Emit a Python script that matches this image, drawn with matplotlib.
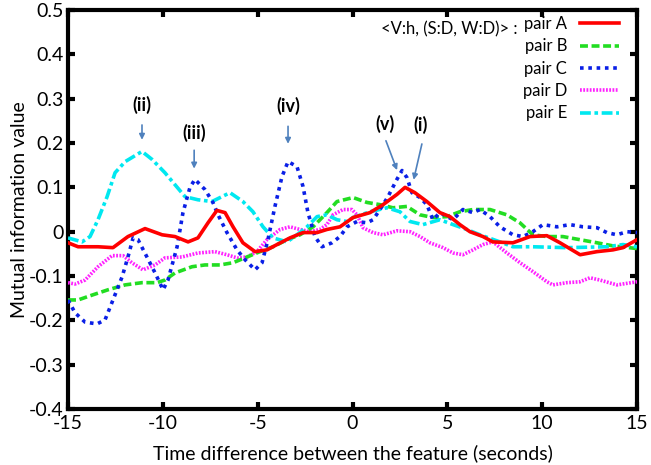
import matplotlib
matplotlib.use("Agg")
import matplotlib.pyplot as plt
import numpy as np

plt.rcParams['font.family'] = ['Lato', 'DejaVu Sans']

# ---- data ----
a_x = [-15, -14.47, -13.42, -12.63, -11.84, -10.94, -10.04, -9.36, -8.67, -8.15, -7.62, -7.15, -6.72, -6.3,
       -5.78, -5.14, -4.51, -3.98, -3.3, -2.61, -1.87, -1.35, -0.66, 0.03, 0.92, 1.61, 2.34, 2.77, 3.29, 3.92,
       4.61, 5.14, 5.66, 6.19, 6.88, 7.4, 8.46, 9.36, 10.25, 10.94, 12.0, 12.89, 13.73, 14.26, 15]
a_y = [-0.025, -0.034, -0.034, -0.036, -0.011, 0.007, -0.007, -0.011, -0.023, -0.014, 0.020, 0.048, 0.043, 0.011,
       -0.025, -0.045, -0.041, -0.029, -0.014, -0.002, -0.002, 0.005, 0.011, 0.032, 0.043, 0.061, 0.084, 0.100, 0.088, 0.068,
       0.043, 0.034, 0.016, 0.000, -0.011, -0.023, -0.025, -0.011, -0.009, -0.025, -0.052, -0.045, -0.041, -0.036, -0.018]

b_x = [-15, -14.47, -13.73, -12.89, -11.99, -11.1, -10.31, -9.89, -9.36, -8.46, -7.78, -6.99, -6.3, -5.56,
       -4.88, -4.19, -3.45, -2.77, -2.08, -1.35, -0.82, 0.03, 0.76, 1.45, 2.13, 2.87, 3.56, 4.24, 4.98, 5.66,
       6.35, 7.25, 8.14, 8.83, 9.51, 10.25, 11.09, 11.99, 12.89, 13.73, 15]
b_y = [-0.154, -0.154, -0.143, -0.131, -0.120, -0.115, -0.115, -0.109, -0.093, -0.079, -0.075, -0.075, -0.070, -0.057,
       -0.045, -0.034, -0.018, -0.007, 0.011, 0.043, 0.068, 0.077, 0.066, 0.061, 0.054, 0.057, 0.038, 0.032, 0.034, 0.045,
       0.050, 0.050, 0.038, 0.020, -0.007, -0.011, -0.011, -0.018, -0.025, -0.032, -0.038]

c_x = [-15, -14.63, -14.1, -13.47, -13.05, -12.63, -12.15, -11.84, -11.57, -11.31, -10.84, -10.41, -9.99, -9.73,
       -9.25, -8.94, -8.57, -8.31, -7.78, -7.36, -7.09, -6.62, -6.09, -5.67, -5.14, -4.77, -4.46, -4.09, -3.72,
       -3.4, -2.93, -2.61, -2.35, -1.98, -1.61, -1.08, -0.66, -0.29, 0.24, 0.76, 1.08, 1.45, 1.87, 2.34, 2.61,
       2.87, 3.13, 3.56, 3.92, 4.24, 4.61, 5.3, 5.82, 6.35, 6.72, 7.25, 7.77, 8.46, 8.99, 9.51, 10.04, 10.78,
       11.46, 12.15, 12.89, 13.41, 13.94, 14.47, 15]
c_y = [-0.154, -0.183, -0.204, -0.208, -0.199, -0.154, -0.102, -0.057, -0.014, -0.018, -0.057, -0.093, -0.131, -0.109,
       -0.034, 0.043, 0.100, 0.118, 0.095, 0.066, 0.038, -0.002, -0.041, -0.063, -0.086, -0.070, -0.018, 0.057, 0.124,
       0.158, 0.147, 0.102, 0.043, -0.011, -0.034, -0.025, -0.011, 0.011, 0.023, 0.020, 0.027, 0.050, 0.079, 0.118, 0.138,
       0.122, 0.088, 0.077, 0.061, 0.027, 0.043, 0.027, 0.050, 0.043, 0.050, 0.034, 0.011, -0.007, -0.011, 0.000, 0.016, 0.011,
       0.016, 0.011, 0.009, -0.002, -0.007, 0.000, -0.002]

d_x = [-15, -14.63, -14.1, -13.42, -12.68, -12.1, -11.63, -11.05, -10.41, -9.89, -8.99, -8.15, -7.25, -6.62,
       -6.09, -5.56, -5.04, -4.51, -3.82, -3.3, -2.77, -2.24, -1.72, -1.35, -1.03, -0.5, -0.03, 0.24, 0.55, 1.08,
       1.61, 2.34, 3.03, 3.56, 4.08, 4.77, 5.3, 5.82, 6.35, 6.88, 7.4, 8.14, 8.83, 9.51, 10.25, 10.57, 11.3,
       11.99, 12.52, 13.04, 13.94, 15]
d_y = [-0.115, -0.118, -0.109, -0.079, -0.054, -0.054, -0.070, -0.086, -0.075, -0.059, -0.057, -0.048, -0.045, -0.052,
       -0.059, -0.057, -0.045, -0.018, 0.005, 0.011, 0.005, 0.000, 0.005, 0.016, 0.038, 0.050, 0.050, 0.038, 0.009, -0.002,
       -0.007, 0.002, 0.000, -0.011, -0.025, -0.036, -0.048, -0.052, -0.041, -0.029, -0.023, -0.048, -0.070, -0.090, -0.113, -0.120, -0.115,
       -0.113, -0.104, -0.109, -0.120, -0.113]

e_x = [-15, -14.26, -13.84, -13.42, -12.94, -12.52, -11.99, -11.1, -10.57, -9.89, -9.36, -8.83, -8.15, -7.41,
       -6.46, -5.78, -5.25, -4.72, -4.19, -3.45, -2.93, -2.4, -1.87, -1.35, -0.82, -0.29, 0.03, 0.92, 1.82, 2.5,
       3.03, 3.71, 4.61, 5.3, 6.03, 6.72, 7.77, 8.46, 9.51, 11.3, 13.41, 14.26, 15]
e_y = [-0.014, -0.023, -0.011, 0.027, 0.079, 0.133, 0.158, 0.181, 0.163, 0.133, 0.106, 0.079, 0.072, 0.068,
       0.088, 0.068, 0.045, 0.011, -0.014, -0.023, -0.007, 0.011, 0.034, 0.038, 0.027, 0.023, 0.032, 0.045, 0.054, 0.045,
       0.023, 0.016, 0.027, 0.016, 0.005, -0.007, -0.023, -0.034, -0.034, -0.036, -0.034, -0.029, -0.034]

series_labels = ['pair A', 'pair B', 'pair C', 'pair D', 'pair E']
legend_title = '<V:h, (S:D, W:D)> :'
x_ticks = [-15, -10, -5, 0, 5, 10, 15]
y_ticks = [-0.4, -0.3, -0.2, -0.1, 0, 0.1, 0.2, 0.3, 0.4, 0.5]
y_tick_labels = ['-0.4', '-0.3', '-0.2', '-0.1', '0', '0.1', '0.2', '0.3', '0.4', '0.5']

# annotations: label, text position, arrow start, arrow end
ann_labels = ['(ii)', '(iii)', '(iv)', '(v)', '(i)']
ann_text_xy = [(-11.1, 0.285), (-8.35, 0.222), (-3.4, 0.283), (1.71, 0.242), (3.61, 0.240)]
ann_start_xy = [(-11.1, 0.247), (-8.35, 0.190), (-3.4, 0.244), (1.71, 0.211), (3.69, 0.204)]
ann_end_xy = [(-11.1, 0.201), (-8.35, 0.136), (-3.4, 0.192), (2.4, 0.133), (3.19, 0.111)]

# ---- figure ----
fig = plt.figure(figsize=(6.51, 4.65), dpi=100)
ax = fig.add_axes([0.1045, 0.1204, 0.874, 0.858])

lw = 2.6
styles = [
    dict(color='#ff0000', linestyle='-', linewidth=lw),
    dict(color='#22dd22', linestyle=(0, (2.2, 1.0)), linewidth=lw),
    dict(color='#0a1fe6', linestyle=(0, (1.0, 1.3)), linewidth=lw),
    dict(color='#ff22ff', linestyle=(0, (0.5, 0.4)), linewidth=lw),
    dict(color='#00e8f0', linestyle=(0, (3.0, 1.0, 1.0, 1.0)), linewidth=lw),
]
xs = [a_x, b_x, c_x, d_x, e_x]
ys = [a_y, b_y, c_y, d_y, e_y]
order = [3, 1, 4, 2, 0]
handles = [None] * 5
for i in order:
    ln, = ax.plot(xs[i], ys[i], label=series_labels[i], zorder=3 + (i == 0), **styles[i])
    handles[i] = ln

ax.set_xlim(-15, 15)
ax.set_ylim(-0.4, 0.5)
ax.set_xticks(x_ticks)
ax.set_xticklabels([str(t) for t in x_ticks])
ax.set_yticks(y_ticks)
ax.set_yticklabels(y_tick_labels)
for s in ax.spines.values():
    s.set_linewidth(3)
ax.tick_params(direction='in', length=5, width=3, top=True, right=True,
               labelsize=14, pad=4)
ax.tick_params(axis='y', pad=3)
ax.set_xlabel('Time difference between the feature (seconds)', fontsize=14, labelpad=9)
ax.set_ylabel('Mutual information value', fontsize=14, labelpad=1)

leg = ax.legend(handles=handles, labels=series_labels, loc='upper right',
                bbox_to_anchor=(0.968, 0.985), frameon=False, markerfirst=False,
                fontsize=12, handlelength=2.3, handletextpad=0.8, labelspacing=0.38,
                borderpad=0, borderaxespad=0)
ax.text(0.790, 0.952, legend_title, transform=ax.transAxes, ha='right', va='center', fontsize=12)

for lab, t, s, e in zip(ann_labels, ann_text_xy, ann_start_xy, ann_end_xy):
    ax.text(t[0], t[1], lab, ha='center', va='center', fontsize=13, fontweight='bold')
    ax.annotate('', xy=e, xytext=s,
                arrowprops=dict(arrowstyle='-|>', color='#4f81bd', lw=1.2, mutation_scale=8))

fig.savefig('out.png', dpi=100)
